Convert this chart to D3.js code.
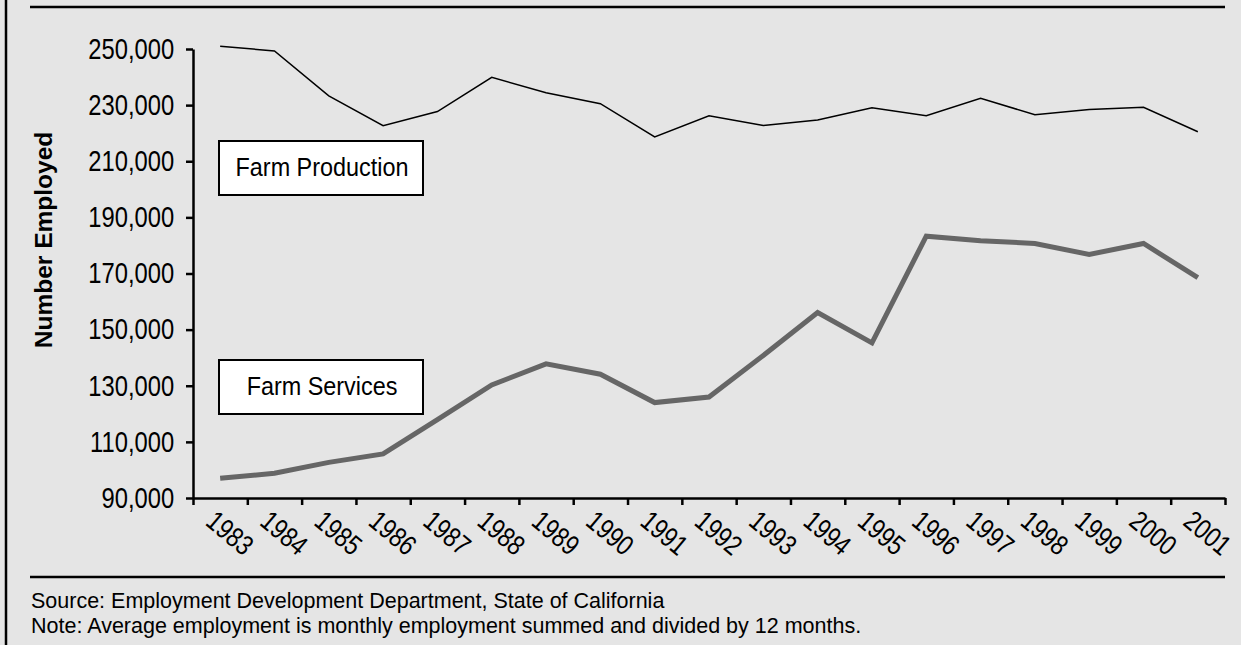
<!DOCTYPE html>
<html>
<head>
<meta charset="utf-8">
<script src="https://cdn.jsdelivr.net/npm/d3@7"></script>
<style>
  body { margin: 0; background: #e5e5e5; }
  svg { display: block; font-family: "Liberation Sans", Arial, sans-serif; }
</style>
</head>
<body>
<svg id="chart" width="1241" height="645"></svg>
<script>
// Data
const years = ["1983", "1984", "1985", "1986", "1987", "1988", "1989", "1990", "1991", "1992",
               "1993", "1994", "1995", "1996", "1997", "1998", "1999", "2000", "2001"];
const farmProduction = [251000, 249300, 233300, 222700, 227700, 239900, 234400, 230500, 218700, 226200,
                        222700, 224700, 229100, 226200, 232400, 226600, 228400, 229200, 220500];
const farmServices = [97000, 98800, 102700, 105700, 117900, 130300, 137800, 134100, 124000, 126000,
                      140800, 156100, 145300, 183300, 181700, 180700, 176800, 180700, 168500];
const yTicks = [90000, 110000, 130000, 150000, 170000, 190000, 210000, 230000, 250000];
const labels = ["Farm Production", "Farm Services"];
const sourceText = "Source: Employment Development Department, State of California";
const noteText = "Note: Average employment is monthly employment summed and divided by 12 months.";

const svg = d3.select("#chart");
const W = 1241, H = 645;

svg.append("rect").attr("width", W).attr("height", H).attr("fill", "#e5e5e5");

// frame: left border and two horizontal rules
svg.append("line").attr("x1", 6).attr("x2", 6).attr("y1", 0).attr("y2", H)
    .attr("stroke", "#000").attr("stroke-width", 2.5);
svg.append("line").attr("x1", 30).attr("x2", 1225).attr("y1", 7).attr("y2", 7)
    .attr("stroke", "#000").attr("stroke-width", 2.5);
svg.append("line").attr("x1", 30).attr("x2", 1225).attr("y1", 577).attr("y2", 577)
    .attr("stroke", "#000").attr("stroke-width", 2.5);

// scales
const x = d3.scaleLinear().domain([0, years.length]).range([193, 1225]);
const y = d3.scaleLinear().domain([90000, 250000]).range([498, 49]);

// y axis
const yAxis = svg.append("g")
    .attr("transform", `translate(${x(0)},0)`)
    .call(d3.axisLeft(y).tickValues(yTicks).tickSize(7).tickSizeOuter(0).tickFormat(d3.format(",")));
yAxis.selectAll("path, line").attr("stroke", "#000").attr("stroke-width", 2.5);
yAxis.selectAll("text")
    .attr("x", -23)
    .attr("transform", "scale(0.82,1)")
    .attr("font-size", 29)
    .attr("font-family", "Liberation Sans, Arial, sans-serif")
    .attr("fill", "#000");

// x axis: ticks on category boundaries
const xAxis = svg.append("g")
    .attr("transform", `translate(0,${y(90000)})`)
    .call(d3.axisBottom(x).tickValues(d3.range(years.length + 1)).tickSize(7).tickSizeOuter(0).tickFormat(""));
xAxis.selectAll("path, line").attr("stroke", "#000").attr("stroke-width", 2.5);

// rotated year labels
svg.append("g").selectAll("text")
    .data(years)
    .join("text")
    .attr("transform", (d, i) => `translate(${x(i + 0.5) - 16},524) rotate(40) scale(0.82,1)`)
    .attr("font-size", 28)
    .attr("fill", "#000")
    .text(d => d);

// y axis title
svg.append("text")
    .attr("transform", "translate(52,240) rotate(-90)")
    .attr("text-anchor", "middle")
    .attr("font-size", 24.5)
    .attr("font-weight", "bold")
    .attr("fill", "#000")
    .text("Number Employed");

// lines
const line = d3.line()
    .x((d, i) => x(i + 0.5))
    .y(d => y(d));

svg.append("path")
    .datum(farmProduction)
    .attr("d", line)
    .attr("fill", "none")
    .attr("stroke", "#000")
    .attr("stroke-width", 1.5);

svg.append("path")
    .datum(farmServices)
    .attr("d", line)
    .attr("fill", "none")
    .attr("stroke", "#666")
    .attr("stroke-width", 5)
    .attr("stroke-linejoin", "miter");

// label boxes
const boxes = [
    { label: labels[0], top: 141 },
    { label: labels[1], top: 360 }
];
boxes.forEach(b => {
    svg.append("rect")
        .attr("x", 219).attr("y", b.top)
        .attr("width", 204).attr("height", 54)
        .attr("fill", "#fff").attr("stroke", "#000").attr("stroke-width", 2);
    svg.append("text")
        .attr("transform", `translate(322,${b.top + 35}) scale(0.9,1)`)
        .attr("text-anchor", "middle")
        .attr("font-size", 26)
        .attr("fill", "#000")
        .text(b.label);
});

// footnotes
svg.append("text").attr("x", 31).attr("y", 608)
    .attr("font-size", 21.5).attr("fill", "#000").text(sourceText);
svg.append("text").attr("x", 31).attr("y", 633)
    .attr("font-size", 21.5).attr("fill", "#000").text(noteText);
</script>
</body>
</html>
